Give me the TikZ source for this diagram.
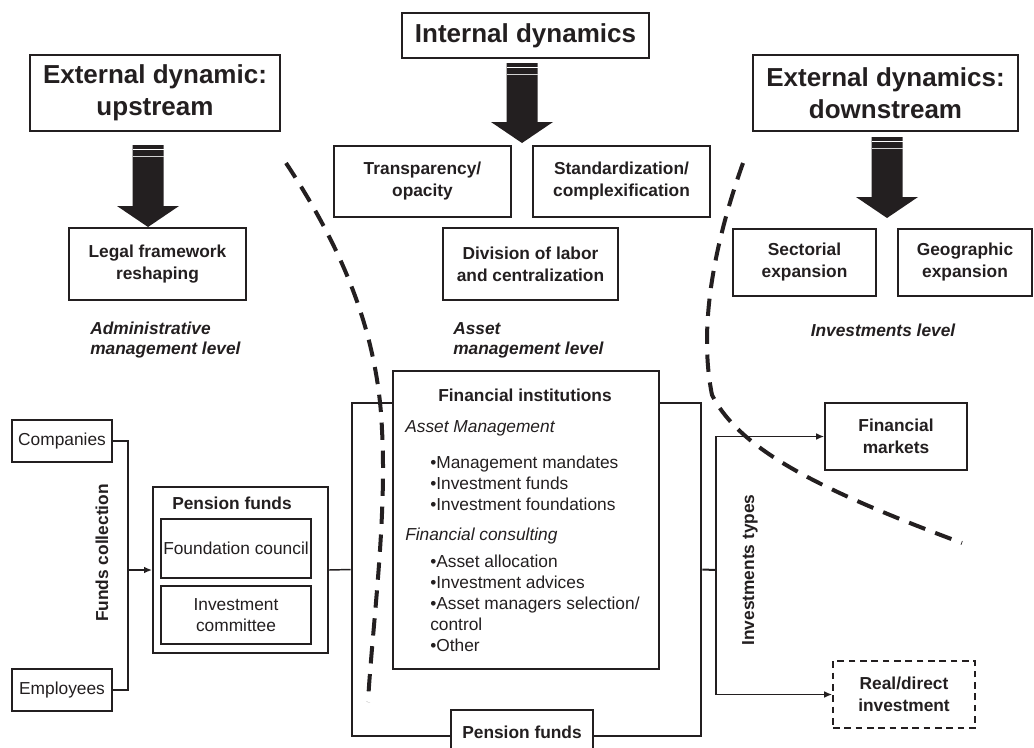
\documentclass[tikz,border=0pt]{standalone}
\usepackage{fontspec}
\setmainfont{Liberation Sans}
\usetikzlibrary{arrows.meta}

\definecolor{ink}{RGB}{35,31,32}

\tikzset{
  headbox/.style={draw, line width=1.1pt, align=center, inner sep=1pt,
    font=\bfseries\fontsize{19.5}{24}\selectfont},
  levelbox/.style={draw, line width=2pt, align=center, inner sep=1pt,
    font=\bfseries\fontsize{13}{16.5}\selectfont},
  levellabel/.style={align=left, inner sep=0pt,
    font=\bfseries\itshape\fontsize{13}{15}\selectfont},
  flowbox/.style={draw, line width=1.4pt, align=center, inner sep=1pt, fill=white,
    font=\fontsize{13}{15.75}\selectfont},
  plaintext/.style={align=left, inner sep=0pt, font=\fontsize{13}{15.75}\selectfont},
  boldtext/.style={align=center, inner sep=0pt, font=\bfseries\fontsize{13}{16.5}\selectfont},
  levelline/.style={line width=3pt, dash pattern=on 13pt off 8pt},
  link/.style={line width=1.1pt},
  linkarrow/.style={line width=1.1pt, -{Latex[length=6pt,width=5pt]}}
}

% block arrow: centre x, top y, tip y
\newcommand{\blockarrow}[3]{%
  \fill (#1-15.5,#2) -- (#1+15.5,#2) -- (#1+15.5,#3-21) -- (#1+31,#3-21) -- (#1,#3)
    -- (#1-31,#3-21) -- (#1-15.5,#3-21) -- cycle;
  \draw[white, line width=0.8pt] (#1-15.5,#2+4.5) -- (#1+15.5,#2+4.5);
  \draw[gray!35, line width=0.8pt] (#1-15.5,#2+11.5) -- (#1+15.5,#2+11.5);
}

\begin{document}
\begin{tikzpicture}[x=0.75pt,y=0.75pt,yscale=-1,xscale=1,color=ink]
\useasboundingbox (0,0) rectangle (1034,747);
\clip (0,0) rectangle (1034,747);

%Shape: Rectangle
\node[headbox, minimum width=187.5pt, minimum height=57pt] (up) at (155,93) {External dynamic:\\upstream};
%Shape: Rectangle
\node[headbox, minimum width=185.25pt, minimum height=33.75pt] (internal) at (525.5,35.5) {Internal dynamics};
%Shape: Rectangle
\node[headbox, minimum width=198.75pt, minimum height=57pt] (down) at (885.5,93) {External dynamics:\\downstream};

%Shape: Block Arrows
\blockarrow{148}{145}{227}
\blockarrow{522}{63}{143}
\blockarrow{887}{137}{218}

%Shape: Rectangle
\node[levelbox, minimum width=132.75pt, minimum height=54pt] (legal) at (157.5,264) {Legal framework\\reshaping};
%Shape: Rectangle
\node[levelbox, minimum width=132.75pt, minimum height=53.25pt] (transp) at (422.5,181.5) {Transparency/\\opacity};
%Shape: Rectangle
\node[levelbox, minimum width=132.75pt, minimum height=53.25pt] (standard) at (621.5,181.5) {Standardization/\\complexification};
%Shape: Rectangle
\node[levelbox, minimum width=131.25pt, minimum height=54pt] (division) at (530.5,264) {Division of labor\\and centralization};
%Shape: Rectangle
\node[levelbox, minimum width=107.25pt, minimum height=50.25pt] (sector) at (804.5,262.5) {Sectorial\\expansion};
%Shape: Rectangle
\node[levelbox, minimum width=100.5pt, minimum height=50.25pt] (geo) at (965,262.5) {Geographic\\expansion};

% Text Node
\node[levellabel, anchor=west] (adminlvl) at (90,340) {Administrative\\management level};
% Text Node
\node[levellabel, anchor=west] (assetlvl) at (453,340) {Asset\\management level};
% Text Node
\node[levellabel] (investlvl) at (883,330) {Investments level};

%Shape: Rectangle
\node[draw, line width=2pt, minimum width=261.75pt, minimum height=249.75pt] (outer) at (526.5,569.5) {};
%Shape: Rectangle
\node[draw, line width=1.2pt, fill=white, minimum width=199.5pt, minimum height=223.5pt] (fi) at (526,520) {};
%Shape: Rectangle
\node[flowbox, font=\bfseries\fontsize{13}{16.5}\selectfont, minimum width=106.5pt, minimum height=33pt] (pfbot) at (522,732) {Pension funds};

% Text Node
\node[boldtext] (fititle) at (525,395) {Financial institutions};
% Text Node
\node[plaintext, anchor=west, font=\itshape\fontsize{13}{15.75}\selectfont] (amhead) at (405,428) {Asset Management};
% Text Node
\node[plaintext, anchor=west] (amlist) at (430,483) {•Management mandates\\•Investment funds\\•Investment foundations};
% Text Node
\node[plaintext, anchor=west, font=\itshape\fontsize{13}{15.75}\selectfont] (fchead) at (405,536) {Financial consulting};
% Text Node
\node[plaintext, anchor=west] (fclist) at (430,603) {•Asset allocation\\•Investment advices\\•Asset managers selection/\\control\\•Other};

%Shape: Rectangle
\node[flowbox, minimum width=75pt, minimum height=31.5pt] (comp) at (62,441) {Companies};
%Shape: Rectangle
\node[flowbox, minimum width=75pt, minimum height=31.5pt] (emp) at (62,690) {Employees};
%Shape: Rectangle
\node[flowbox, minimum width=131.25pt, minimum height=124.5pt] (pf) at (240.5,570) {};
% Text Node
\node[boldtext] (pftitle) at (232,503) {Pension funds};
%Shape: Rectangle
\node[flowbox, line width=0.8pt, minimum width=112.5pt, minimum height=44.25pt] (council) at (236,548.5) {Foundation council};
%Shape: Rectangle
\node[flowbox, line width=0.8pt, minimum width=112.5pt, minimum height=43.5pt] (committee) at (236,615) {Investment\\committee};

%Shape: Rectangle
\node[flowbox, line width=1.2pt, font=\bfseries\fontsize{13}{16.5}\selectfont, minimum width=106.5pt, minimum height=50.25pt] (markets) at (896,436.5) {Financial\\markets};
%Shape: Rectangle
\node[flowbox, line width=1.2pt, dash pattern=on 5pt off 3.5pt, font=\bfseries\fontsize{13}{16.5}\selectfont, minimum width=106.5pt, minimum height=50.25pt] (real) at (904,694.5) {Real/direct\\investment};

% Text Node
\node[boldtext, rotate=90] (fundslbl) at (102,553) {Funds collection};
% Text Node
\node[boldtext, rotate=90] (typeslbl) at (750,570) {Investments types};

\coordinate (join) at (128,570);
\coordinate (split) at (716,570);

%Straight Lines
\draw[line width=1.5pt] (comp.east) -| (join) |- (emp.east);
\draw[linkarrow] (join) -- (pf.west);
\draw[link] (pf.east) -- (outer.west);
\draw[line width=1.5pt] (outer.east) -- (split);
\draw[linkarrow] (split) |- (markets.west);
\draw[linkarrow] (split) |- (real.west);

%Curve Lines
\draw[levelline] (286,163) .. controls (340,245) and (378,330) .. (382,430) .. controls (387,520) and (372,630) .. (368,702);
%Curve Lines
\draw[levelline] (743,163) .. controls (712,250) and (699,330) .. (712,395) .. controls (740,450) and (820,490) .. (962,543);

\end{tikzpicture}
\end{document}
